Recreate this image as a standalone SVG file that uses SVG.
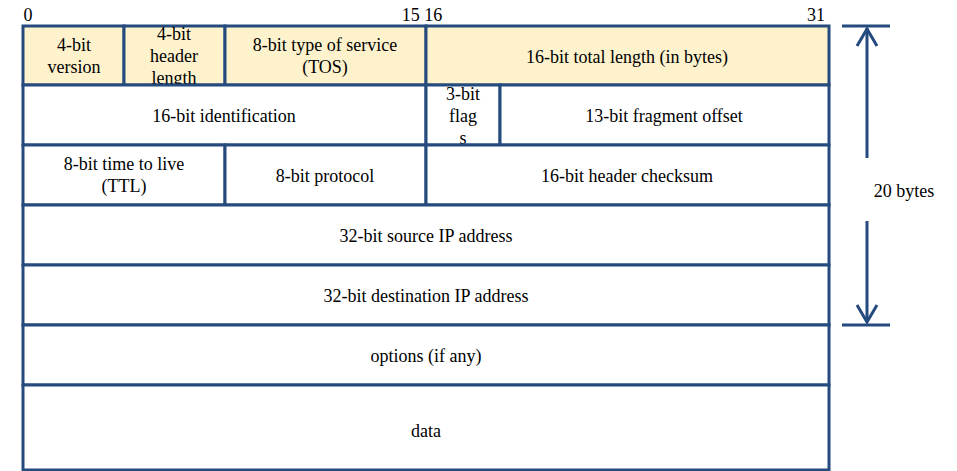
<svg xmlns="http://www.w3.org/2000/svg" width="957" height="471" viewBox="0 0 957 471">
<style>
.c{fill:#ffffff;stroke:#254a7e;stroke-width:3}
.h{fill:#fef2cd;stroke:#254a7e;stroke-width:3}
text{font-family:"Liberation Serif","Times New Roman",serif;font-size:18px;fill:#000;text-anchor:middle}
.ln{stroke:#254a7e;stroke-width:3;fill:none}
</style>
<rect width="957" height="471" fill="#fff"/>
<g id="bits">
<text x="28" y="21">0</text>
<text x="422" y="21">15 16</text>
<text x="816" y="21">31</text>
</g>
<g id="version"><rect class="h" x="23" y="26" width="101" height="59"/><text x="74" y="51">4-bit</text><text x="74" y="73">version</text></g>
<g id="hlen"><rect class="h" x="124" y="26" width="101" height="59"/><text x="174" y="40">4-bit</text><text x="174" y="62">header</text><text x="174" y="84">length</text></g>
<g id="tos"><rect class="h" x="225" y="26" width="201" height="59"/><text x="325" y="51">8-bit type of service</text><text x="325" y="73">(TOS)</text></g>
<g id="totlen"><rect class="h" x="426" y="26" width="403" height="59"/><text x="627" y="63">16-bit total length (in bytes)</text></g>
<g id="ident"><rect class="c" x="23" y="85" width="403" height="60"/><text x="224" y="122">16-bit identification</text></g>
<g id="flags"><rect class="c" x="426" y="85" width="74" height="60"/><text x="463" y="100">3-bit</text><text x="463" y="122">flag</text><text x="463" y="144">s</text></g>
<g id="frag"><rect class="c" x="500" y="85" width="329" height="60"/><text x="664" y="122">13-bit fragment offset</text></g>
<g id="ttl"><rect class="c" x="23" y="145" width="202" height="60"/><text x="124" y="170">8-bit time to live</text><text x="124" y="192">(TTL)</text></g>
<g id="proto"><rect class="c" x="225" y="145" width="201" height="60"/><text x="325" y="182">8-bit protocol</text></g>
<g id="cksum"><rect class="c" x="426" y="145" width="403" height="60"/><text x="627" y="182">16-bit header checksum</text></g>
<g id="src"><rect class="c" x="23" y="205" width="806" height="60"/><text x="426" y="242">32-bit source IP address</text></g>
<g id="dst"><rect class="c" x="23" y="265" width="806" height="60"/><text x="426" y="302">32-bit destination IP address</text></g>
<g id="opts"><rect class="c" x="23" y="325" width="806" height="60"/><text x="426" y="362">options (if any)</text></g>
<g id="data"><rect class="c" x="23" y="385" width="806" height="85"/><text x="426" y="437">data</text></g>
<g id="connectors">
<line class="ln" x1="842" y1="26" x2="890" y2="26"/>
<line class="ln" x1="867" y1="28" x2="867" y2="158"/>
<polyline class="ln" points="857,46 867,29 877,46"/>
<line class="ln" x1="867" y1="221" x2="867" y2="322"/>
<polyline class="ln" points="857,305 867,322 877,305"/>
<line class="ln" x1="842" y1="325" x2="890" y2="325"/>
</g>
<g id="size"><text x="904" y="197">20 bytes</text></g>
</svg>
